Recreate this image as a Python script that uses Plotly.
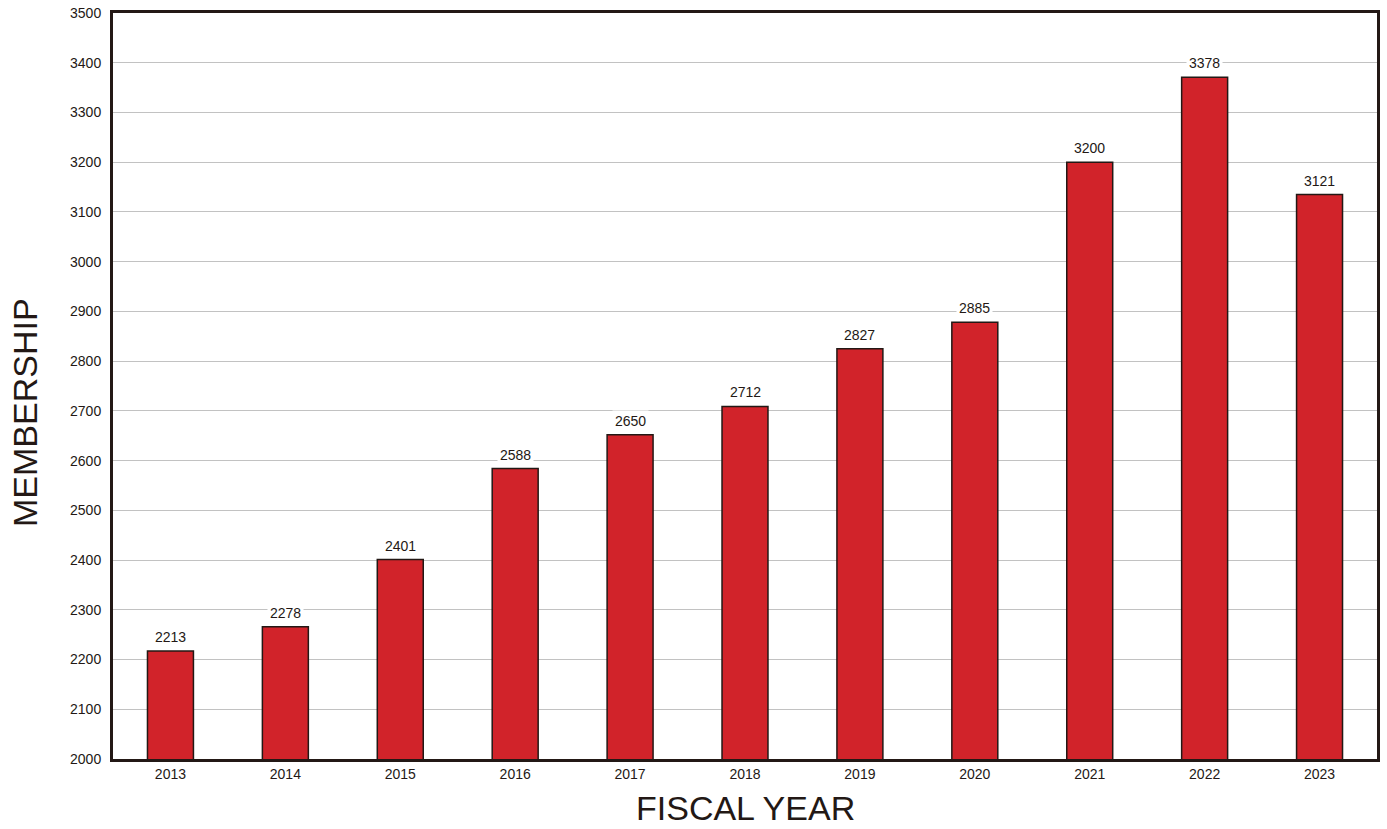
import plotly.graph_objects as go

years = ["2013", "2014", "2015", "2016", "2017", "2018", "2019", "2020", "2021", "2022", "2023"]
bar_heights = [2217, 2266, 2401, 2584, 2652, 2709, 2825, 2878, 3200, 3371, 3135]
labels = ["2213", "2278", "2401", "2588", "2650", "2712", "2827", "2885", "3200", "3378", "3121"]
y_ticks = list(range(2000, 3501, 100))

dark = "#231815"
font_family = "Liberation Sans, Arial, sans-serif"

fig = go.Figure()
fig.add_trace(go.Bar(
    x=years, y=bar_heights,
    marker=dict(color="#D1232A", line=dict(color=dark, width=1.5)),
    hoverinfo="skip",
))

for i, (h, lab) in enumerate(zip(bar_heights, labels)):
    fig.add_annotation(x=i, y=h, text=lab, showarrow=False, yanchor="bottom",
                       yshift=3, bgcolor="white", borderpad=2,
                       font=dict(family=font_family, size=14, color=dark))

# axis titles
fig.add_annotation(xref="paper", yref="paper", x=0.5, y=0, yshift=-49,
                   yanchor="middle", xanchor="center", showarrow=False,
                   text="FISCAL YEAR", font=dict(family=font_family, size=34, color=dark))
fig.add_annotation(xref="paper", yref="paper", x=0, xshift=-88, y=0.5, yshift=-27,
                   xanchor="center", yanchor="middle", showarrow=False, textangle=-90,
                   text="MEMBERSHIP", font=dict(family=font_family, size=34, color=dark))

fig.update_layout(
    width=1387, height=829,
    margin=dict(l=113, r=10, t=13, b=70),
    plot_bgcolor="white", paper_bgcolor="white",
    bargap=0.6, showlegend=False,
    font=dict(family=font_family, color=dark, size=13),
    xaxis=dict(
        type="category", range=[-0.5, len(years) - 0.5], automargin=False,
        showline=True, linecolor=dark, linewidth=3, mirror=True,
        ticks="", tickfont=dict(size=14, color=dark),
    ),
    yaxis=dict(
        range=[2000, 3500], tickvals=y_ticks, ticks="", automargin=False,
        showline=True, linecolor=dark, linewidth=3, mirror=True,
        gridcolor="#c2c2c2", gridwidth=1, zeroline=False,
        tickfont=dict(size=14, color=dark), ticklabelstandoff=6,
    ),
)

fig.write_html("out.html")
